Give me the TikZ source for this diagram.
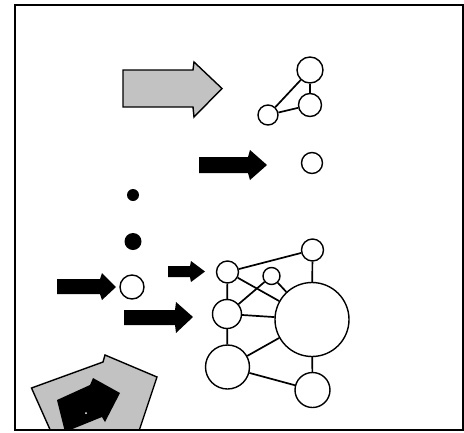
\documentclass[tikz,border=0pt]{standalone}
\begin{document}
\begin{tikzpicture}[x=1pt,y=-1pt]
\tikzset{
 vtx/.style={circle,draw,line width=1.4pt,inner sep=0pt,fill=white},
 dotnode/.style={circle,fill=black,inner sep=0pt},
 edge/.style={line width=1.7pt},
 blockarrow/.style={fill=black},
 grayarrow/.style={fill=black!24,draw=black,line width=1.4pt,line join=miter},
 framebox/.style={line width=2pt},
}
\useasboundingbox (0,0) rectangle (464,432);
% frame
\draw[framebox] (15,5) rectangle (463,430);

% top gray arrow
\draw[grayarrow] (123,70) -- (193,70) -- (194,62) -- (222,88.5) -- (194,117) -- (193,107) -- (123,107) -- cycle;

% small triangle graph
\node[vtx,minimum size=26pt] (t1) at (310,70) {};
\node[vtx,minimum size=23pt] (t2) at (310,105) {};
\node[vtx,minimum size=20pt] (t3) at (268,115) {};
\draw[edge] (t1) -- (t2);
\draw[edge] (t3) -- (t1);
\draw[edge] (t3) -- (t2);

% middle black arrow and single circle
\fill[blockarrow] (199,157) -- (248,157) -- (250,150) -- (267,165) -- (250,180) -- (248,173) -- (199,173) -- cycle;
\node[vtx,minimum size=21pt] (s1) at (312,163) {};

% dots
\node[dotnode,minimum size=12pt] (d1) at (133,195) {};
\node[dotnode,minimum size=17pt] (d2) at (133,241.5) {};
\node[vtx,minimum size=24pt] (d3) at (132,287) {};

% left black arrow
\fill[blockarrow] (57,279) -- (100,279) -- (102,273) -- (116,287) -- (102,300) -- (100,294) -- (57,294) -- cycle;
% small arrow
\fill[blockarrow] (168,266) -- (190,266) -- (191,261) -- (205,271.5) -- (191,282) -- (190,277) -- (168,277) -- cycle;
% lower arrow
\fill[blockarrow] (124,310) -- (175,310) -- (176,302) -- (193,317) -- (176,333) -- (175,325) -- (124,325) -- cycle;

% big graph
\node[vtx,minimum size=22pt] (A) at (227.5,272) {};
\node[vtx,minimum size=17pt] (B) at (271.5,276) {};
\node[vtx,minimum size=22pt] (C) at (312.5,250) {};
\node[vtx,minimum size=29pt] (D) at (227,314) {};
\node[vtx,minimum size=74pt] (E) at (312,319.5) {};
\node[vtx,minimum size=44pt] (F) at (227.5,367) {};
\node[vtx,minimum size=35pt] (G) at (312.5,390) {};
\draw[edge] (A) -- (C);
\draw[edge] (C) -- (E);
\draw[edge] (A) -- (D);
\draw[edge] (A) -- (E);
\draw[edge] (D) -- (B);
\draw[edge] (B) -- (E);
\draw[edge] (D) -- (E);
\draw[edge] (D) -- (F);
\draw[edge] (F) -- (E);
\draw[edge] (F) -- (G);
\draw[edge] (G) -- (E);

% bottom-left rotated arrows (clipped by frame)
\begin{scope}
\clip (15,5) rectangle (463,430);
\draw[grayarrow] (31.5,388) -- (103,362) -- (105,355) -- (157,377) -- (138,434) -- (52,434) -- cycle;
\fill[blockarrow] (57,400) -- (90,385) -- (93,378) -- (120,393) -- (105,422) -- (102,417) -- (65,432) -- cycle;
\fill[white] (86,413) circle (1pt);
\end{scope}
\draw[framebox] (15,430) -- (463,430);
\end{tikzpicture}
\end{document}
